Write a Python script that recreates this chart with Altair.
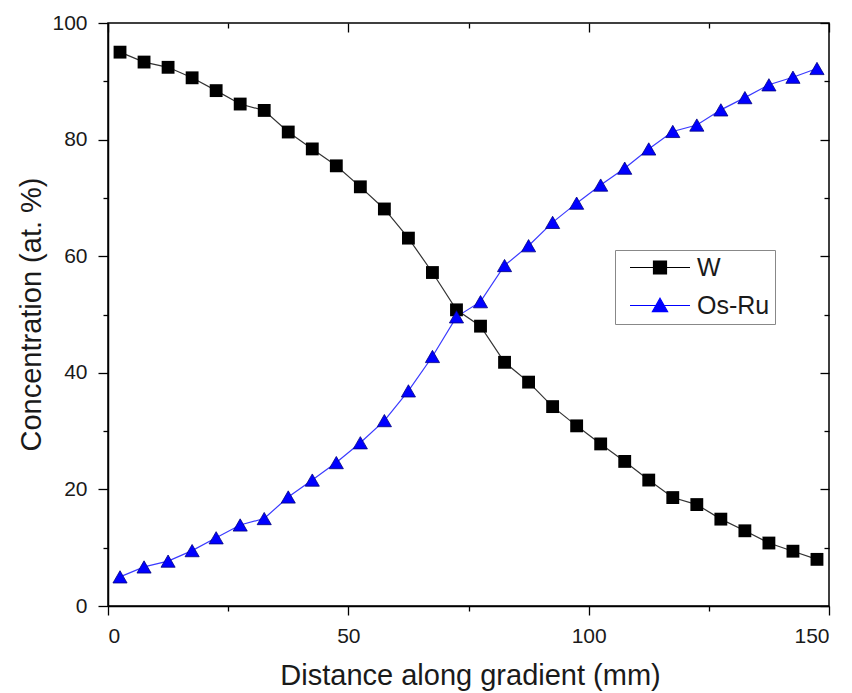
import altair as alt
import pandas as pd

distance = [2.5, 7.5, 12.5, 17.5, 22.5, 27.5, 32.5, 37.5, 42.5, 47.5,
            52.5, 57.5, 62.5, 67.5, 72.5, 77.5, 82.5, 87.5, 92.5, 97.5,
            102.5, 107.5, 112.5, 117.5, 122.5, 127.5, 132.5, 137.5, 142.5, 147.5]
w_conc = [95.0, 93.3, 92.4, 90.6, 88.4, 86.1, 85.0, 81.3, 78.4, 75.5,
          71.9, 68.1, 63.1, 57.2, 50.8, 48.0, 41.8, 38.4, 34.2, 30.9,
          27.8, 24.8, 21.6, 18.6, 17.4, 14.9, 12.9, 10.8, 9.4, 8.0]
osru_conc = [5.0, 6.7, 7.7, 9.5, 11.7, 13.9, 15.0, 18.7, 21.6, 24.6,
             28.0, 31.8, 36.9, 42.8, 49.6, 52.2, 58.4, 61.8, 65.8, 69.1,
             72.2, 75.1, 78.4, 81.4, 82.5, 85.1, 87.2, 89.4, 90.7, 92.2]
series_names = ["W", "Os-Ru"]
series_colors = ["black", "blue"]
x_major = [0, 50, 100, 150]
x_minor = [25, 75, 125]
y_major = [0, 20, 40, 60, 80, 100]
y_minor = [10, 30, 50, 70, 90]

df = pd.DataFrame({
    "distance": distance * 2,
    "conc": w_conc + osru_conc,
    "series": ["W"] * len(w_conc) + ["Os-Ru"] * len(osru_conc),
})

FONT = "Liberation Sans"
TXT = "#1a1a1a"
xs = alt.Scale(domain=[0, 150], nice=False)
ys = alt.Scale(domain=[0, 100], nice=False)

base = alt.Chart(df)

def axis_layer(xaxis, yaxis):
    return base.transform_filter("false").mark_point(opacity=0).encode(
        x=alt.X("distance:Q", scale=xs, axis=xaxis),
        y=alt.Y("conc:Q", scale=ys, axis=yaxis),
    )

common = dict(domain=False, labels=False, title=None, tickColor="black", tickWidth=1.3, grid=False)

main_axes = axis_layer(
    alt.Axis(values=x_major, tickSize=9, tickColor="black", tickWidth=1.3, domainColor="black",
             domainWidth=1.5, labelFontSize=21, labelFont=FONT, labelColor=TXT, labelPadding=10,
             title="Distance along gradient (mm)", titleFontSize=29, titleFont=FONT,
             titleFontWeight="normal", titleColor=TXT, titleX=362, titleY=78,
             titleAlign="center", titleBaseline="alphabetic", grid=False, format="d"),
    alt.Axis(values=y_major, tickSize=10, tickColor="black", tickWidth=1.3, domainColor="black",
             domainWidth=1.5, labelFontSize=21, labelFont=FONT, labelColor=TXT, labelPadding=11,
             title="Concentration (at. %)", titleFontSize=29, titleFont=FONT,
             titleFontWeight="normal", titleColor=TXT, titleX=-77, titleY=291,
             titleAlign="center", titleBaseline="middle", titleAngle=270, grid=False, format="d"),
)
minor_axes = axis_layer(
    alt.Axis(values=x_minor, tickSize=5, orient="bottom", **common),
    alt.Axis(values=y_minor, tickSize=5, orient="left", **common),
)
mirror_major = axis_layer(
    alt.Axis(values=x_major, tickSize=9, orient="top", offset=-9, **common),
    alt.Axis(values=y_major, tickSize=9, orient="right", offset=-9, **common),
)
mirror_minor = axis_layer(
    alt.Axis(values=x_minor, tickSize=5, orient="top", offset=-5, **common),
    alt.Axis(values=y_minor, tickSize=5, orient="right", offset=-5, **common),
)

w_line = base.transform_filter("datum.series == 'W'").mark_line(
    strokeWidth=1.2, color="#333333").encode(
    x=alt.X("distance:Q", scale=xs, axis=None),
    y=alt.Y("conc:Q", scale=ys, axis=None),
)
o_line = base.transform_filter("datum.series == 'Os-Ru'").mark_line(
    strokeWidth=1.2, color="#3a3aff").encode(
    x=alt.X("distance:Q", scale=xs, axis=None),
    y=alt.Y("conc:Q", scale=ys, axis=None),
)

w_pts = base.transform_filter("datum.series == 'W'").mark_point(
    filled=True, shape="square", size=165, color="black", opacity=1).encode(
    x=alt.X("distance:Q", scale=xs, axis=None),
    y=alt.Y("conc:Q", scale=ys, axis=None),
)
o_pts = base.transform_filter("datum.series == 'Os-Ru'").mark_point(
    filled=True, shape="triangle-up", size=200, color="blue", stroke="#000080",
    strokeWidth=0.8, opacity=1).encode(
    x=alt.X("distance:Q", scale=xs, axis=None),
    y=alt.Y("conc:Q", scale=ys, axis=None),
)

legend_shapes = [
    "M-3,0H3M-0.65,-0.65H0.65V0.65H-0.65Z",
    "M-3,0H3M0,-0.72L0.76,0.62H-0.76Z",
]
the_legend = alt.Legend(title=None, orient="none", legendX=507, legendY=227,
                        symbolSize=400, symbolStrokeWidth=1.2, symbolOpacity=1,
                        symbolOffset=27.5, labelOffset=24.5,
                        labelFontSize=25, labelFont=FONT, labelColor=TXT,
                        strokeColor="#888888", fillColor="white", padding=5,
                        rowPadding=12)
legend_layer = base.transform_calculate(hidden="datum.conc + 1000").mark_point(
    filled=True, opacity=1, clip=True).encode(
    x=alt.X("distance:Q", scale=xs, axis=None),
    y=alt.Y("hidden:Q", scale=ys, axis=None),
    fill=alt.Fill("series:N", scale=alt.Scale(domain=series_names, range=series_colors),
                  legend=the_legend),
    stroke=alt.Stroke("series:N", scale=alt.Scale(domain=series_names, range=series_colors),
                      legend=the_legend),
    shape=alt.Shape("series:N", scale=alt.Scale(domain=series_names, range=legend_shapes),
                    legend=the_legend),
)

chart = alt.layer(
    main_axes, minor_axes, mirror_major, mirror_minor,
    legend_layer, w_line, o_line, w_pts, o_pts,
).resolve_axis(x="independent", y="independent").properties(
    width=721, height=583,
    autosize=alt.AutoSizeParams(type="none"),
    padding={"left": 100, "top": 15, "right": 15, "bottom": 87},
    background="white",
).configure_view(stroke="black", strokeWidth=1.5)

chart.save("out.html", embed_options={"renderer": "svg", "actions": False})
